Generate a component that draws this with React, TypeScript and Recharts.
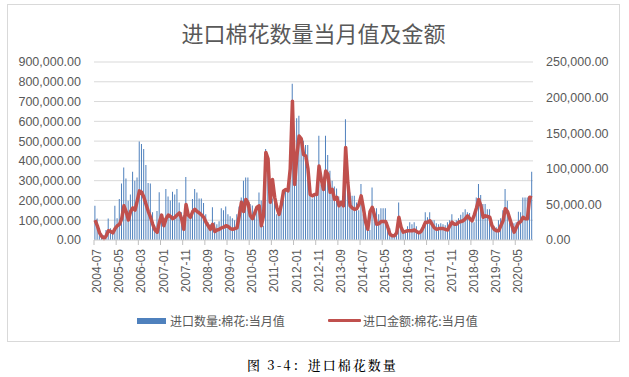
import React from "react";
import { Bar, CartesianGrid, ComposedChart, Line, XAxis, YAxis } from "recharts";

// 2004-07 .. 2020-12, one category per month
const startYear = 2004;
const startMonth = 7;
const monthCount = 198;
const months: string[] = [];
for (let k = 0; k < monthCount; k++) {
  const m = startMonth - 1 + k;
  months.push(`${startYear + Math.floor(m / 12)}-${String((m % 12) + 1).padStart(2, "0")}`);
}

// 进口数量:棉花:当月值 (left axis)
const qty = [
  173000, 109000, 40000, 30000, 25000, 50000, 109000, 60000, 45000, 173000,
  110000, 207000, 286000, 367000, 311000, 199000, 230000, 345000, 300000, 316000,
  498000, 485000, 460000, 379000, 288000, 286000, 140000, 72000, 146000, 241000,
  123000, 110000, 258000, 220000, 200000, 244000, 230000, 258000, 190000, 140000,
  125000, 318000, 150000, 125000, 207000, 258000, 240000, 210000, 210000, 187000,
  130000, 90000, 80000, 165000, 90000, 80000, 95000, 160000, 150000, 170000,
  130000, 120000, 110000, 100000, 130000, 170000, 215000, 300000, 316000, 316000,
  182000, 175000, 130000, 150000, 240000, 200000, 72000, 460000, 375000, 200000,
  210000, 230000, 130000, 125000, 200000, 250000, 260000, 270000, 300000, 790000,
  380000, 615000, 628000, 500000, 502000, 480000, 480000, 250000, 210000, 230000,
  240000, 527000, 280000, 320000, 527000, 430000, 350000, 300000, 270000, 260000,
  220000, 200000, 180000, 610000, 350000, 240000, 224000, 224000, 190000, 150000,
  283000, 130000, 80000, 70000, 50000, 266000, 160000, 160000, 130000, 160000,
  160000, 160000, 90000, 60000, 25000, 30000, 40000, 190000, 75000, 35000,
  40000, 70000, 90000, 80000, 90000, 70000, 40000, 35000, 60000, 140000,
  115000, 140000, 100000, 100000, 85000, 80000, 85000, 80000, 75000, 90000,
  100000, 130000, 90000, 100000, 110000, 128000, 140000, 156000, 140000, 136000,
  100000, 90000, 215000, 283000, 227000, 182000, 182000, 156000, 156000, 80000,
  72000, 65000, 100000, 110000, 150000, 258000, 199000, 110000, 90000, 85000,
  90000, 143000, 140000, 215000, 215000, 215000, 215000, 345000,
];

// 进口金额:棉花:当月值 (right axis)
const amt = [
  28000, 20000, 10000, 5000, 2000, 6000, 13000, 12000, 10000, 16000,
  20000, 22000, 30000, 48000, 40000, 28000, 40000, 45000, 42000, 55000,
  69000, 67000, 60000, 50000, 40000, 32000, 22000, 14000, 11000, 25000,
  35000, 20000, 30000, 35000, 33000, 30000, 32000, 35000, 38000, 30000,
  15000, 50000, 35000, 32000, 40000, 43000, 40000, 38000, 35000, 32000,
  25000, 20000, 15000, 22000, 12000, 14000, 15000, 17000, 18000, 20000,
  19000, 16000, 15000, 16000, 17000, 34000, 53000, 40000, 57000, 52000,
  34000, 30000, 38000, 46000, 48000, 20000, 35000, 123000, 114000, 53000,
  85000, 60000, 45000, 36000, 50000, 69000, 71000, 69000, 100000, 195000,
  78000, 118000, 146000, 142000, 120000, 118000, 100000, 64000, 62000, 64000,
  64000, 104000, 85000, 71000, 97000, 92000, 67000, 71000, 57000, 60000,
  48000, 53000, 48000, 130000, 80000, 48000, 45000, 43000, 44000, 50000,
  62000, 45000, 25000, 15000, 40000, 46000, 35000, 22000, 23000, 26000,
  26000, 26000, 18000, 8000, 6000, 6000, 10000, 32000, 18000, 11000,
  12000, 13000, 13000, 13000, 14000, 12000, 10000, 12000, 18000, 25000,
  25000, 27000, 22000, 17000, 15000, 16000, 16000, 16000, 15000, 14000,
  20000, 25000, 22000, 22000, 25000, 26000, 27000, 30000, 34000, 30000,
  27000, 35000, 45000, 57000, 48000, 32000, 34000, 33000, 32000, 20000,
  15000, 13000, 13000, 20000, 27000, 44000, 40000, 30000, 20000, 11000,
  18000, 24000, 26000, 32000, 30000, 30000, 60000, 59000,
];

const leftTicks = [0, 100000, 200000, 300000, 400000, 500000, 600000, 700000, 800000, 900000];
const rightTicks = [0, 50000, 100000, 150000, 200000, 250000];

const data = months.map((month, i) => ({ month, qty: qty[i], amt: amt[i] }));

const fmt = (v: number) =>
  v.toLocaleString("en-US", { minimumFractionDigits: 2, maximumFractionDigits: 2 });

const numFont = "'Liberation Sans', Arial, sans-serif";
const cjkFont = "'Noto Sans CJK SC', 'Noto Sans', sans-serif";
const band = 439 / monthCount;

const MonthTick = (props: any) => {
  const { x, y, payload } = props;
  return (
    <g>
      <line x1={x - band / 2} x2={x - band / 2} y1={y} y2={y + 5} stroke="#bfbfbf" />
      <text
        x={x + 2}
        y={y + 9}
        transform={`rotate(-90, ${x + 2}, ${y + 9})`}
        textAnchor="end"
        dominantBaseline="central"
        fontSize={12}
        fontFamily={numFont}
        fill="#595959"
      >
        {payload.value}
      </text>
    </g>
  );
};

const App = () => (
  <div
    style={{
      position: "absolute",
      left: 7,
      top: 4,
      width: 611,
      height: 336,
      border: "1px solid #d9d9d9",
      background: "#fff",
    }}
  >
    <div
      style={{
        position: "absolute",
        top: 14,
        left: 0,
        width: 611,
        textAlign: "center",
        fontFamily: cjkFont,
        fontSize: 22,
        lineHeight: "26px",
        color: "#595959",
      }}
    >
      进口棉花数量当月值及金额
    </div>
    <ComposedChart
      width={611}
      height={336}
      data={data}
      margin={{ top: 57, right: 0, bottom: 41, left: 0 }}
      barCategoryGap="18%"
    >
      <CartesianGrid yAxisId="left" vertical={false} stroke="#d9d9d9" />
      <XAxis
        dataKey="month"
        interval={9}
        height={60}
        tickSize={0}
        tickMargin={0}
        tickLine={false}
        axisLine={{ stroke: "#d9d9d9" }}
        tick={<MonthTick />}
      />
      <YAxis
        yAxisId="left"
        width={86}
        domain={[0, 900000]}
        ticks={leftTicks}
        interval={0}
        tickFormatter={fmt}
        axisLine={false}
        tickLine={false}
        tickSize={6}
        tickMargin={7}
        tick={{ fontSize: 12.5, fill: "#595959", fontFamily: numFont }}
      />
      <YAxis
        yAxisId="right"
        orientation="right"
        width={86}
        domain={[0, 250000]}
        ticks={rightTicks}
        interval={0}
        tickFormatter={fmt}
        axisLine={false}
        tickLine={false}
        tickSize={6}
        tickMargin={7}
        tick={{ fontSize: 12.5, fill: "#595959", fontFamily: numFont, textAnchor: "start" }}
      />
      <Bar yAxisId="left" dataKey="qty" fill="#4F81BD" isAnimationActive={false} />
      <Line
        yAxisId="right"
        dataKey="amt"
        type="linear"
        stroke="#C0504D"
        strokeWidth={3.5}
        strokeLinejoin="round"
        dot={false}
        activeDot={false}
        isAnimationActive={false}
      />
    </ComposedChart>
    <div
      style={{
        position: "absolute",
        top: 306,
        left: 0,
        fontFamily: cjkFont,
        fontSize: 12,
        color: "#595959",
      }}
    >
      <span style={{ position: "absolute", left: 129, top: 7, width: 29, height: 6, background: "#4F81BD" }} />
      <span style={{ position: "absolute", left: 162, top: 0, whiteSpace: "nowrap", lineHeight: "20px" }}>
        进口数量:棉花:当月值
      </span>
      <span style={{ position: "absolute", left: 320, top: 8, width: 33, height: 3, background: "#C0504D", borderRadius: 1 }} />
      <span style={{ position: "absolute", left: 355, top: 0, whiteSpace: "nowrap", lineHeight: "20px" }}>
        进口金额:棉花:当月值
      </span>
    </div>
    <div
      style={{
        position: "absolute",
        top: 350,
        left: 239,
        whiteSpace: "nowrap",
        fontFamily: "'Noto Serif CJK SC', 'Noto Sans CJK SC', serif",
        fontSize: 13,
        letterSpacing: 2,
        fontWeight: 500,
        color: "#000",
        lineHeight: "20px",
      }}
    >
      图 3-4：进口棉花数量
    </div>
  </div>
);

export default App;
